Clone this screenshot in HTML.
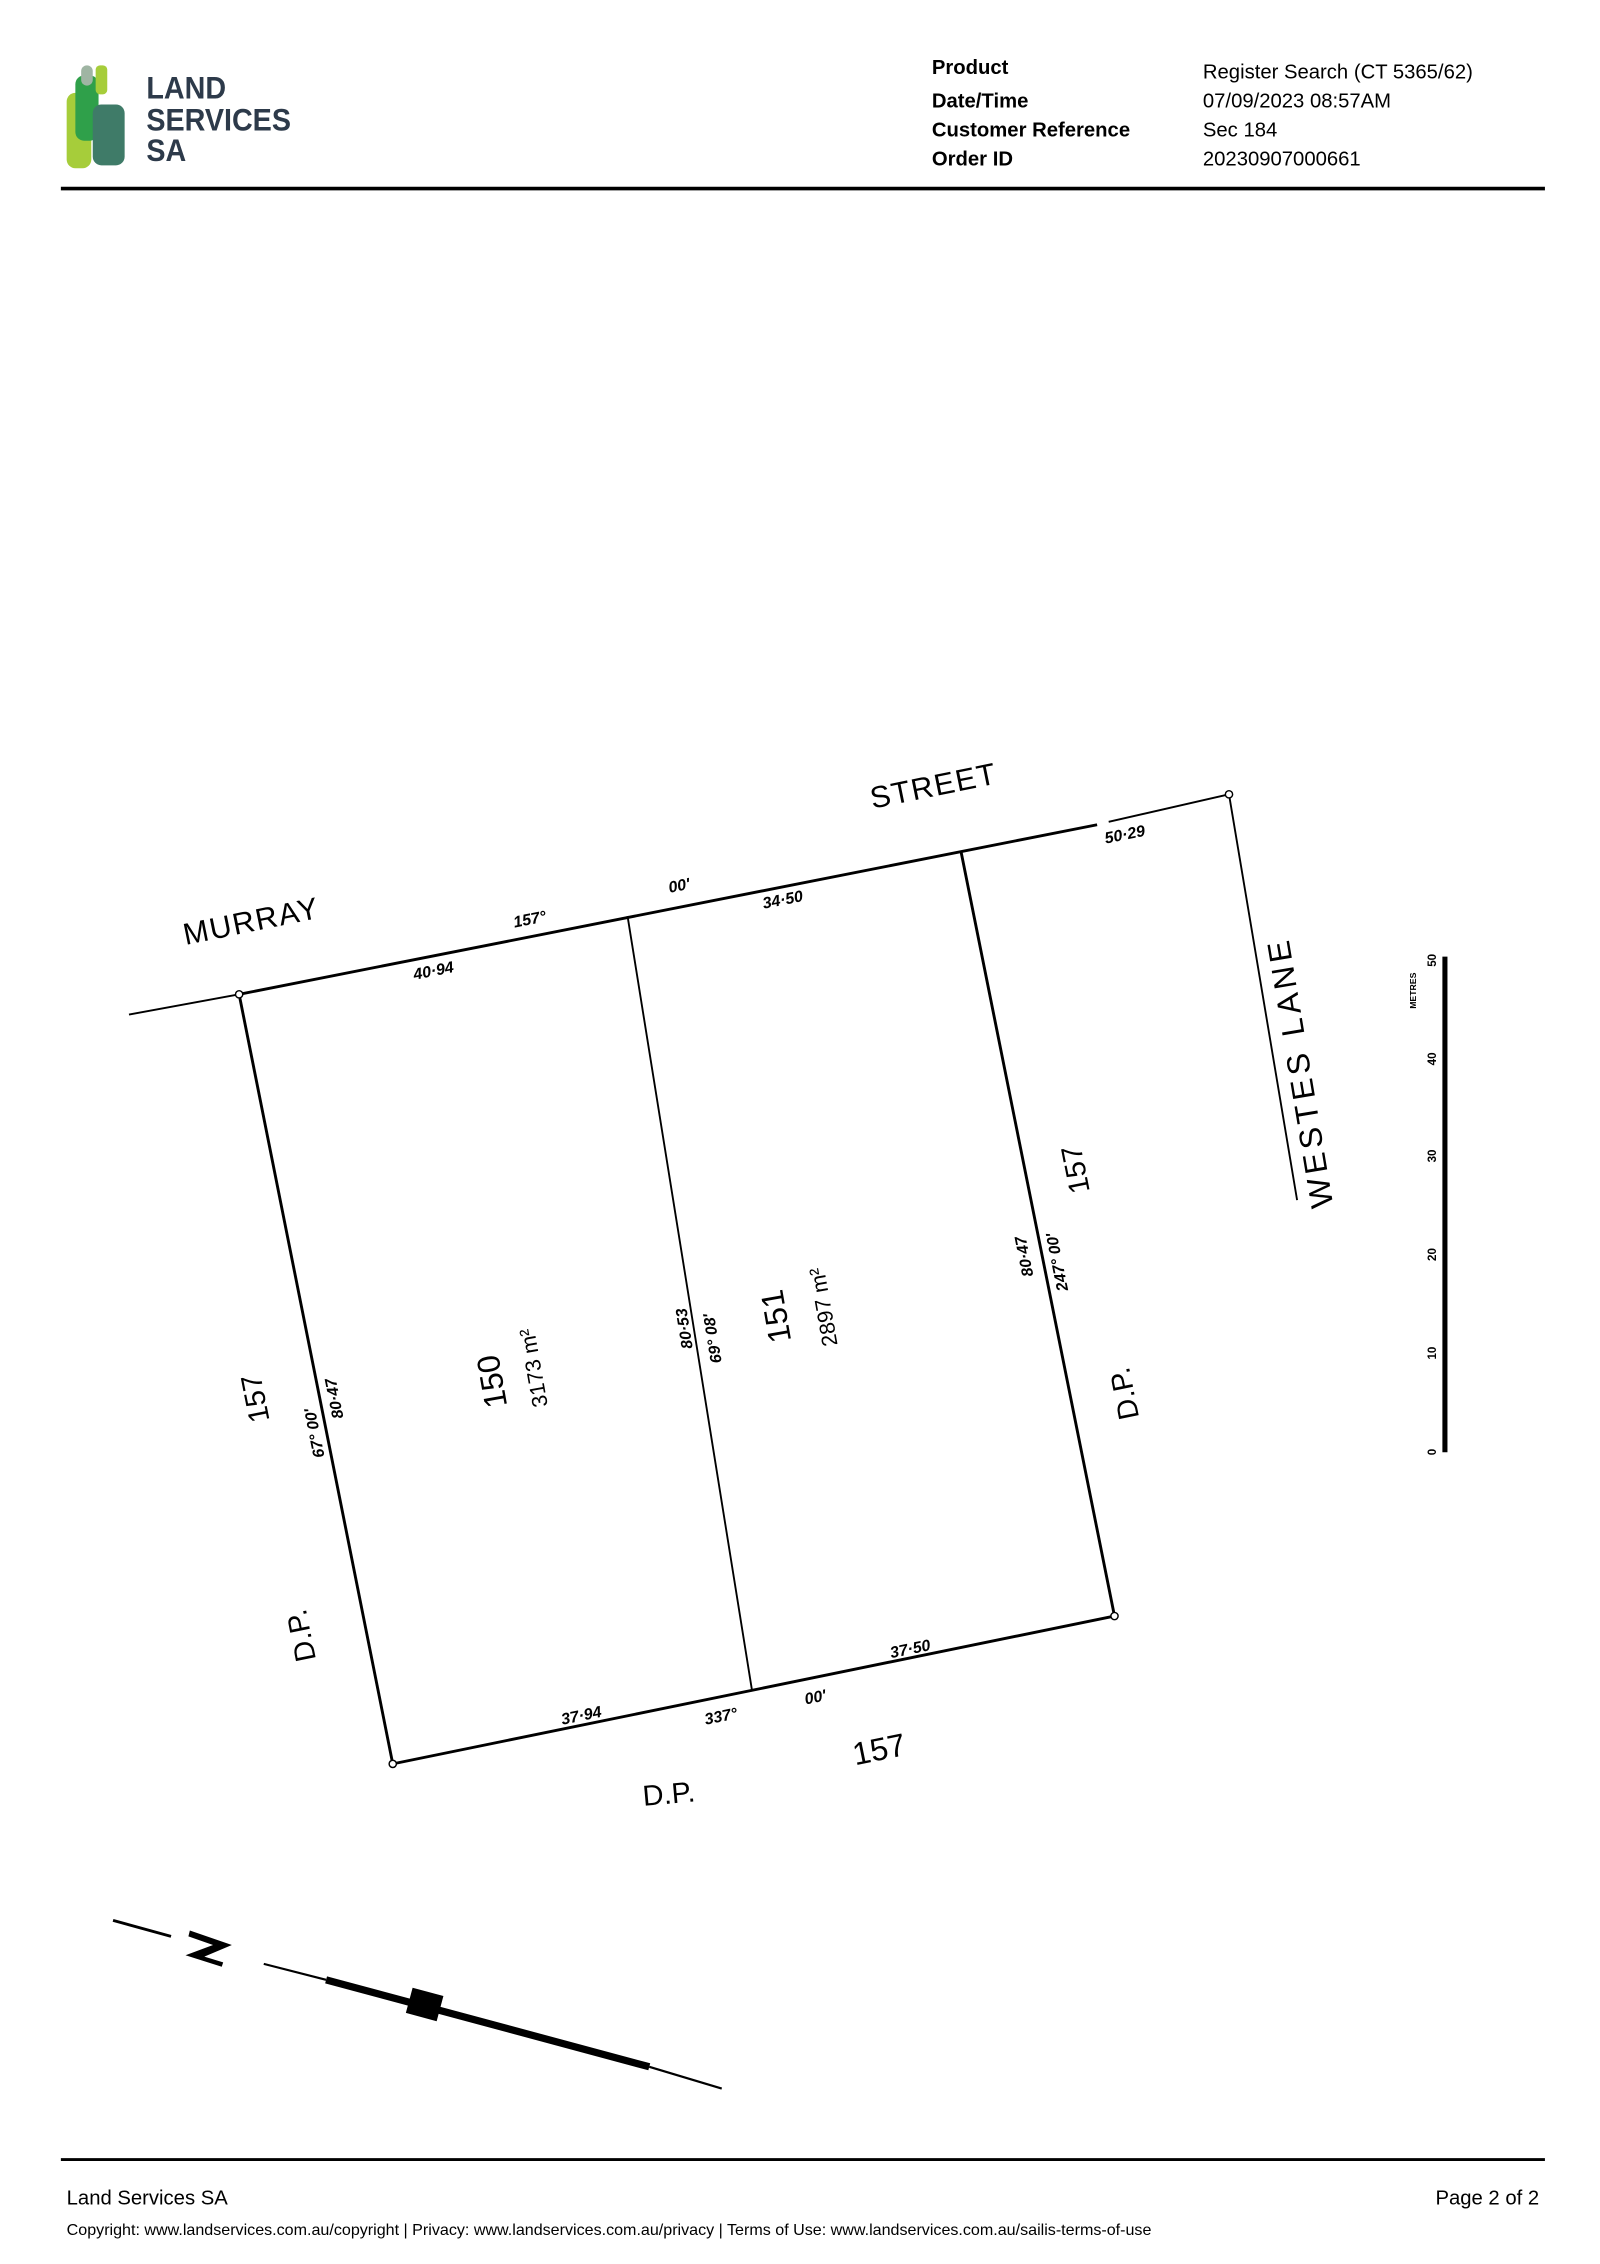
<!DOCTYPE html>
<html><head><meta charset="utf-8"><style>
html,body{margin:0;padding:0;background:#fff;}
svg{display:block;}
.h{font-family:"Liberation Sans",sans-serif;font-size:14px;fill:#000;}
.d{font-family:"Liberation Sans",sans-serif;fill:#000;}
.s{font-size:11px;font-style:italic;font-weight:bold;}
</style></head><body>
<svg width="1600" height="2264" viewBox="0 0 1104 1562" xmlns="http://www.w3.org/2000/svg">
<!-- logo -->
<rect x="46" y="64" width="17" height="52" rx="6" fill="#a6cd3a"/>
<rect x="52" y="52" width="16" height="45" rx="6" fill="#2fa04a"/>
<rect x="56" y="45" width="8" height="14" rx="4" fill="#9fb5a3"/>
<rect x="66" y="45" width="8" height="20" rx="3" fill="#a6cd3a"/>
<rect x="64" y="72" width="22" height="42" rx="6" fill="#3f7b68"/>
<g transform="translate(101,0) scale(0.9,1)">
<text x="0" y="68" class="d" font-size="22" font-weight="bold" style="fill:#2d3a4a">LAND</text>
<text x="0" y="90" class="d" font-size="22" font-weight="bold" style="fill:#2d3a4a">SERVICES</text>
<text x="0" y="111" class="d" font-size="22" font-weight="bold" style="fill:#2d3a4a">SA</text>
</g>
<!-- header -->
<text x="643" y="51" class="h" font-weight="bold">Product</text>
<text x="643" y="74" class="h" font-weight="bold">Date/Time</text>
<text x="643" y="94" class="h" font-weight="bold">Customer Reference</text>
<text x="643" y="114" class="h" font-weight="bold">Order ID</text>
<text x="830" y="54" class="h">Register Search (CT 5365/62)</text>
<text x="830" y="74" class="h">07/09/2023 08:57AM</text>
<text x="830" y="94" class="h">Sec 184</text>
<text x="830" y="114" class="h">20230907000661</text>
<line x1="42" y1="130" x2="1066" y2="130" stroke="#000" stroke-width="2.5"/>
<!-- footer -->
<line x1="42" y1="1490" x2="1066" y2="1490" stroke="#000" stroke-width="2"/>
<text x="46" y="1521" class="h">Land Services SA</text>
<text x="1062" y="1521" class="h" text-anchor="end">Page 2 of 2</text>
<text x="46" y="1542" class="d" font-size="11.1">Copyright: www.landservices.com.au/copyright | Privacy: www.landservices.com.au/privacy | Terms of Use: www.landservices.com.au/sailis-terms-of-use</text>
<!-- plan lines -->
<g stroke="#000" fill="none">
<line x1="89" y1="700" x2="165" y2="686" stroke-width="1.3"/>
<line x1="165" y1="686" x2="757" y2="569" stroke-width="2"/>
<line x1="765" y1="567" x2="848" y2="548" stroke-width="1.3"/>
<line x1="848" y1="548" x2="895" y2="828" stroke-width="1.3"/>
<line x1="165" y1="686" x2="271" y2="1217" stroke-width="2"/>
<line x1="433" y1="632" x2="519" y2="1167" stroke-width="1.3"/>
<line x1="663" y1="587" x2="769" y2="1115" stroke-width="2"/>
<line x1="271" y1="1217" x2="769" y2="1115" stroke-width="2"/>
<circle cx="165" cy="686" r="2.5" fill="#fff" stroke-width="1"/>
<circle cx="848" cy="548" r="2.5" fill="#fff" stroke-width="1"/>
<circle cx="271" cy="1217" r="2.5" fill="#fff" stroke-width="1"/>
<circle cx="769" cy="1115" r="2.5" fill="#fff" stroke-width="1"/>
<!-- scale bar -->
<line x1="997" y1="660" x2="997" y2="1002" stroke-width="3.5"/>
<!-- north arrow -->
<line x1="78" y1="1325" x2="118" y2="1336" stroke-width="2"/>
<line x1="182" y1="1355" x2="225" y2="1366" stroke-width="1.5"/>
<line x1="225" y1="1366" x2="448" y2="1426" stroke-width="5"/>
<line x1="448" y1="1426" x2="498" y2="1441" stroke-width="1.5"/>
</g>
<rect x="282" y="1374" width="22" height="18" fill="#000" transform="rotate(15 293 1383)"/>
<path d="M131,1332 L160,1342 L141,1350 L154,1354 L153,1357 L128,1349 L147,1342 L130,1336 Z" fill="#000"/>
<!-- labels -->
<g class="d">
<text font-size="21" letter-spacing="1" transform="translate(128,652) rotate(-11.5)">MURRAY</text>
<text font-size="21" letter-spacing="1" transform="translate(602,558) rotate(-11.5)">STREET</text>
<text font-size="22" letter-spacing="3" transform="translate(920,832) rotate(-99.5)">WESTES LANE</text>
<g class="s">
<text transform="translate(355,640) rotate(-11.2)">157°</text>
<text transform="translate(462,616) rotate(-11.2)">00'</text>
<text transform="translate(527,627) rotate(-11.2)">34·50</text>
<text transform="translate(286,676) rotate(-11.2)">40·94</text>
<text transform="translate(763,582) rotate(-11.2)">50·29</text>
<text transform="translate(388,1190) rotate(-11.5)">37·94</text>
<text transform="translate(487,1190) rotate(-11.5)">337°</text>
<text transform="translate(556,1176) rotate(-11.5)">00'</text>
<text transform="translate(615,1144) rotate(-11.5)">37·50</text>
<text transform="translate(224,1005) rotate(-101.3)">67°  00'</text>
<text transform="translate(237,978) rotate(-101.3)">80·47</text>
<text transform="translate(478,930) rotate(-99)">80·53</text>
<text transform="translate(498,940) rotate(-99)">69°  08'</text>
<text transform="translate(713,880) rotate(-101.3)">80·47</text>
<text transform="translate(737,890) rotate(-101.3)">247°  00'</text>
</g>
<text font-size="20" transform="translate(186,980) rotate(-101.3)">157</text>
<text font-size="20" transform="translate(218,1145) rotate(-101.3)">D.P.</text>
<text font-size="22" transform="translate(350,970) rotate(-100)">150</text>
<text font-size="15" transform="translate(378,970) rotate(-100)">3173 m²</text>
<text font-size="22" transform="translate(546,925) rotate(-100)">151</text>
<text font-size="15" transform="translate(578,928) rotate(-100)">2897 m²</text>
<text font-size="20" transform="translate(752,822) rotate(-101.3)">157</text>
<text font-size="20" transform="translate(786,978) rotate(-101.3)">D.P.</text>
<text font-size="22" transform="translate(590,1218) rotate(-11.5)">157</text>
<text font-size="20" transform="translate(444,1246) rotate(-5)">D.P.</text>
<g font-size="8" font-weight="bold">
<text transform="translate(991,1004) rotate(-90)">0</text>
<text transform="translate(991,938) rotate(-90)">10</text>
<text transform="translate(991,870) rotate(-90)">20</text>
<text transform="translate(991,802) rotate(-90)">30</text>
<text transform="translate(991,735) rotate(-90)">40</text>
<text transform="translate(991,667) rotate(-90)">50</text>
<text font-size="6" transform="translate(977,696) rotate(-90)">METRES</text>
</g>
</g>
</svg>
</body></html>
